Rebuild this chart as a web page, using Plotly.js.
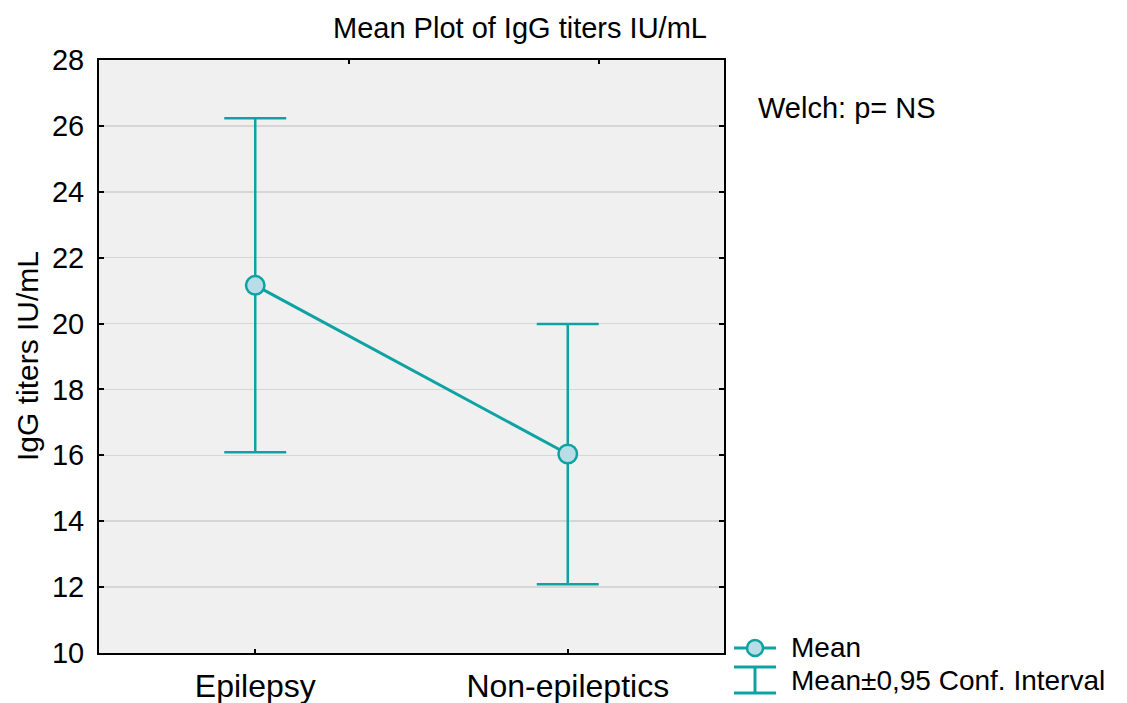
<!DOCTYPE html>
<html>
<head>
<meta charset="utf-8">
<script src="https://cdn.plot.ly/plotly-3.0.1.min.js"></script>
<style>
  html, body { margin: 0; padding: 0; background: #ffffff; }
  #chart { width: 1127px; height: 703px; }
</style>
</head>
<body>
<div id="chart"></div>
<script>
// Group means of IgG titers with 95% confidence limits
const groups = ["Epilepsy", "Non-epileptics"];
const means = [21.16, 16.04];
const ciLower = [16.09, 12.09];
const ciUpper = [26.23, 19.99];
const yTicks = [10, 12, 14, 16, 18, 20, 22, 24, 26, 28];

const teal = "#0ea3a3";
const fillBlue = "#b9dde6";
const font = "Liberation Sans, Arial, sans-serif";

// plot box geometry (px) used to place the hand-drawn legend
const W = 1127, H = 703;
const M = { l: 99, r: 403, t: 60, b: 50 };
const pw = W - M.l - M.r, ph = H - M.t - M.b;
const px = v => (v - M.l) / pw;
const py = v => (H - M.b - v) / ph;

const meanTrace = {
  type: "scatter",
  mode: "lines+markers",
  x: groups,
  y: means,
  line: { color: teal, width: 3 },
  marker: { size: 18.5, color: fillBlue, line: { color: teal, width: 2.5 } },
  error_y: {
    type: "data",
    symmetric: false,
    array: ciUpper.map((u, i) => u - means[i]),
    arrayminus: ciLower.map((l, i) => means[i] - l),
    color: teal,
    thickness: 2.5,
    width: 31
  },
  showlegend: false,
  hoverinfo: "x+y"
};

// empty trace carrying the top/right frame axes
const frameTrace = {
  type: "scatter", x: [], y: [], xaxis: "x2", yaxis: "y2",
  showlegend: false, hoverinfo: "skip"
};

const layout = {
  width: W, height: H,
  margin: M,
  paper_bgcolor: "#ffffff",
  plot_bgcolor: "#f0f0f0",
  font: { family: font, size: 28, color: "#000000" },
  showlegend: false,
  xaxis: {
    type: "category",
    range: [-0.5, 1.5],
    ticks: "inside", ticklen: 4, tickwidth: 2, tickcolor: "#000",
    ticklabelstandoff: 4,
    showline: true, linecolor: "#000", linewidth: 2,
    showgrid: false, zeroline: false,
    tickfont: { size: 32 }
  },
  yaxis: {
    range: [10, 28],
    tickvals: yTicks,
    ticks: "inside", ticklen: 5, tickwidth: 2, tickcolor: "#000",
    ticklabelstandoff: 7,
    showline: true, linecolor: "#000", linewidth: 2,
    mirror: "ticks",
    showgrid: true, gridcolor: "#d6d6d6", gridwidth: 1.5,
    zeroline: false,
    tickfont: { size: 29 }
  },
  xaxis2: {
    overlaying: "x", side: "top", anchor: "y2",
    range: [0, 2.5], tickvals: [1, 2],
    ticks: "inside", ticklen: 4, tickwidth: 2, tickcolor: "#000",
    showticklabels: false, showline: true, linecolor: "#000", linewidth: 2,
    showgrid: false, zeroline: false
  },
  yaxis2: {
    overlaying: "y", side: "right", anchor: "x2",
    range: [10, 28], showticklabels: false, ticks: "",
    showline: true, linecolor: "#000", linewidth: 2,
    showgrid: false, zeroline: false
  },
  annotations: [
    { text: "Mean Plot of IgG titers IU/mL", xref: "paper", yref: "paper",
      x: px(520), y: py(28), xanchor: "center", yanchor: "middle",
      showarrow: false, font: { size: 29 } },
    { text: "IgG titers IU/mL", xref: "paper", yref: "paper",
      x: px(27), y: py(356), xanchor: "center", yanchor: "middle",
      textangle: -90, showarrow: false, font: { size: 30 } },
    { text: "Welch: p= NS", xref: "paper", yref: "paper",
      x: px(756), y: py(108), xanchor: "left", yanchor: "middle",
      showarrow: false, font: { size: 29 } },
    { text: "Mean", xref: "paper", yref: "paper",
      x: px(789), y: py(647), xanchor: "left", yanchor: "middle",
      showarrow: false, font: { size: 28 } },
    { text: "Mean±0,95 Conf. Interval", xref: "paper", yref: "paper",
      x: px(789), y: py(680), xanchor: "left", yanchor: "middle",
      showarrow: false, font: { size: 28 } }
  ],
  shapes: [
    // legend glyph: mean line with marker
    { type: "line", xref: "paper", yref: "paper",
      x0: px(734), x1: px(776), y0: py(648), y1: py(648),
      line: { color: teal, width: 3 } },
    { type: "circle", xref: "paper", yref: "paper",
      x0: px(747), x1: px(763), y0: py(656), y1: py(640),
      fillcolor: fillBlue, line: { color: teal, width: 2.5 } },
    // legend glyph: confidence interval bar
    { type: "line", xref: "paper", yref: "paper",
      x0: px(734), x1: px(776), y0: py(667), y1: py(667),
      line: { color: teal, width: 3 } },
    { type: "line", xref: "paper", yref: "paper",
      x0: px(734), x1: px(776), y0: py(693), y1: py(693),
      line: { color: teal, width: 3 } },
    { type: "line", xref: "paper", yref: "paper",
      x0: px(755), x1: px(755), y0: py(667), y1: py(693),
      line: { color: teal, width: 3 } }
  ]
};

Plotly.newPlot("chart", [meanTrace, frameTrace], layout, { displayModeBar: false, staticPlot: true });
</script>
</body>
</html>
